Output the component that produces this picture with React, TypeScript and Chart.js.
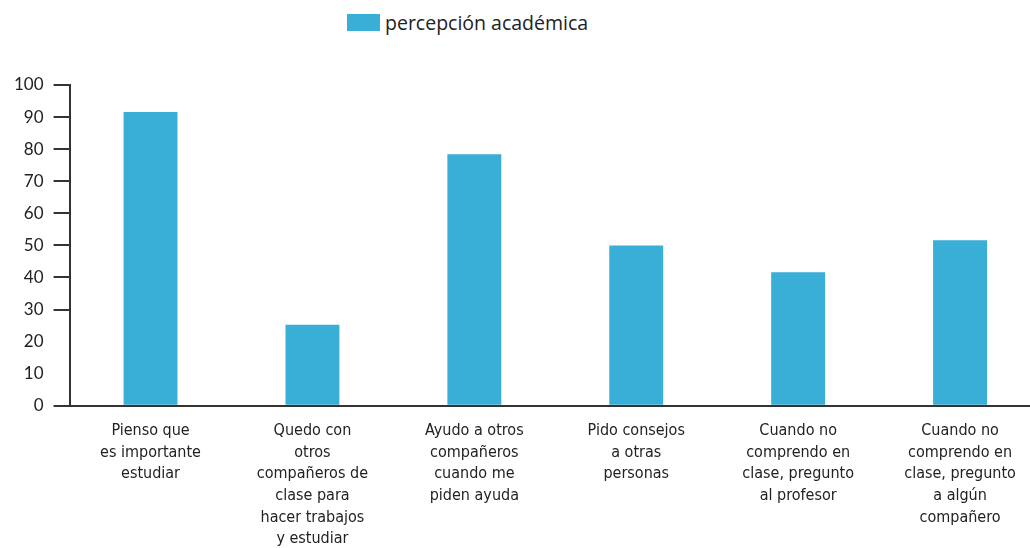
import React, { useEffect, useRef } from 'react';
import { Chart, registerables } from 'chart.js';

Chart.register(...registerables);

const categories: string[][] = [
  ['Pienso que', 'es importante', 'estudiar'],
  ['Quedo con', 'otros', 'compañeros de', 'clase para', 'hacer trabajos', 'y estudiar'],
  ['Ayudo a otros', 'compañeros', 'cuando me', 'piden ayuda'],
  ['Pido consejos', 'a otras', 'personas'],
  ['Cuando no', 'comprendo en', 'clase, pregunto', 'al profesor'],
  ['Cuando no', 'comprendo en', 'clase, pregunto', 'a algún', 'compañero'],
];
const seriesLabel = 'percepción académica';
const values = [91.6, 25.3, 78.4, 50.0, 41.6, 51.6];
const yMin = 0;
const yMax = 100;
const yStep = 10;
const hiddenTickMarks = [10, 20];

const BAR_COLOR = '#39AED6';
const AXIS_COLOR = '#333333';
const TEXT_COLOR = '#222222';

export default function App() {
  const canvasRef = useRef<HTMLCanvasElement | null>(null);

  useEffect(() => {
    const canvas = canvasRef.current;
    if (!canvas) return;
    const chart = new Chart(canvas, {
      type: 'bar',
      data: {
        labels: categories,
        datasets: [
          {
            label: seriesLabel,
            data: values,
            backgroundColor: BAR_COLOR,
            borderWidth: 0,
            barPercentage: 1,
            categoryPercentage: 0.333,
          },
        ],
      },
      options: {
        responsive: false,
        animation: false,
        devicePixelRatio: 1,
        layout: { padding: { left: 4, top: 85, right: 4, bottom: 0 } },
        plugins: {
          legend: { display: false },
          tooltip: { enabled: false },
        },
        scales: {
          x: {
            grid: { display: true, drawOnChartArea: false, drawTicks: false },
            border: { display: true, color: AXIS_COLOR, width: 2 },
            ticks: {
              color: TEXT_COLOR,
              padding: 14,
              maxRotation: 0,
              autoSkip: false,
              font: { family: '"DejaVu Sans Condensed", "Liberation Sans Narrow", sans-serif', size: 16, lineHeight: 1.356 },
            },
          },
          y: {
            min: yMin,
            max: yMax,
            grid: {
              drawOnChartArea: false,
              drawTicks: true,
              tickLength: 16,
              lineWidth: 2,
              tickColor: (ctx: any) =>
                ctx.tick && hiddenTickMarks.includes(ctx.tick.value) ? 'rgba(0,0,0,0)' : AXIS_COLOR,
            },
            border: { display: true, color: AXIS_COLOR, width: 2 },
            ticks: {
              stepSize: yStep,
              color: TEXT_COLOR,
              padding: 10,
              font: { family: 'Lato, "Open Sans", sans-serif', size: 17 },
            },
          },
        },
      },
    });
    return () => chart.destroy();
  }, []);

  return (
    <div style={{ position: 'absolute', left: 0, top: 0, width: 1030, height: 548, overflow: 'hidden', background: '#fff' }}>
      <div
        style={{
          position: 'absolute',
          left: 347,
          top: 11,
          height: 22,
          display: 'flex',
          alignItems: 'center',
          fontFamily: '"Open Sans", sans-serif',
          fontSize: 19.5,
          color: TEXT_COLOR,
          whiteSpace: 'nowrap',
        }}
      >
        <span style={{ display: 'inline-block', width: 33, height: 17, background: BAR_COLOR, marginRight: 5 }} />
        <span>{seriesLabel}</span>
      </div>
      <canvas ref={canvasRef} width={1045} height={564} style={{ position: 'absolute', left: 0, top: 0 }} />
    </div>
  );
}
